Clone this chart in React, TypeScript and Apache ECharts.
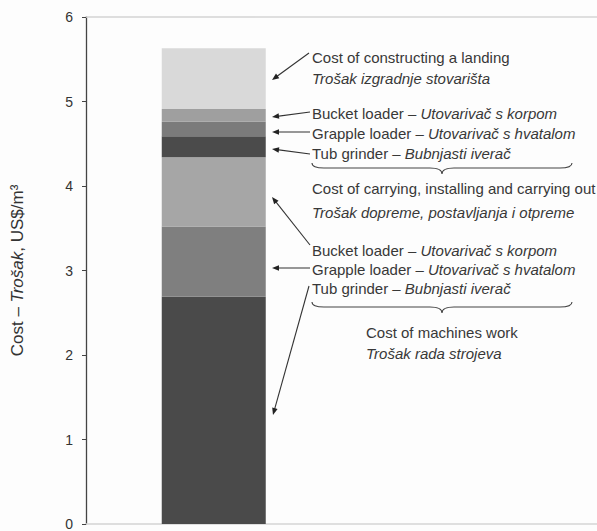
import React, { useEffect, useRef } from "react";
import * as echarts from "echarts";

// ---- data ----
const categories = ["Landing", ""];
const segmentNames = [
  "Tub grinder (machines work)",
  "Grapple loader (machines work)",
  "Bucket loader (machines work)",
  "Tub grinder (carrying)",
  "Grapple loader (carrying)",
  "Bucket loader (carrying)",
  "Cost of constructing a landing",
];
const segmentValues = [2.69, 0.83, 0.82, 0.25, 0.17, 0.15, 0.72];
const segmentColors = ["#4a4a4a", "#7f7f7f", "#a6a6a6", "#4b4b4b", "#7b7b7b", "#9f9f9f", "#d9d9d9"];
const yMin = 0;
const yMax = 6;
const yInterval = 1;

const annotationLines = [
  { text: "Cost of constructing a landing", x: 312, y: 57 },
  { text: "{i|Trošak izgradnje stovarišta}", x: 312, y: 78 },
  { text: "Bucket loader – {i|Utovarivač s korpom}", x: 312, y: 113 },
  { text: "Grapple loader – {i|Utovarivač s hvatalom}", x: 312, y: 133 },
  { text: "Tub grinder – {i|Bubnjasti iverač}", x: 312, y: 153 },
  { text: "Cost of carrying, installing and carrying out", x: 312, y: 188 },
  { text: "{i|Trošak dopreme, postavljanja i otpreme}", x: 312, y: 212 },
  { text: "Bucket loader – {i|Utovarivač s korpom}", x: 312, y: 250 },
  { text: "Grapple loader – {i|Utovarivač s hvatalom}", x: 312, y: 269 },
  { text: "Tub grinder – {i|Bubnjasti iverač}", x: 312, y: 288 },
  { text: "Cost of machines work", x: 366, y: 332 },
  { text: "{i|Trošak rada strojeva}", x: 366, y: 353 },
];

const arrows: [number, number, number, number][] = [
  [309, 53, 272, 80],
  [310, 112, 272, 117],
  [310, 132, 272, 132],
  [310, 154, 272, 149],
  [310, 245, 272, 197],
  [310, 268, 272, 268],
  [309, 286, 273, 415],
];

const braces = [
  { x: 312, y: 163 },
  { x: 312, y: 302 },
];

const FONT = "'Liberation Sans', Arial, sans-serif";
const TEXT_COLOR = "#383838";

echarts.graphic.registerShape(
  "brace",
  echarts.graphic.extendPath(
    "M0,0 Q0,5 12,5 L118,5 Q130,5 130,11 Q130,5 142,5 L248,5 Q260,5 260,0",
    {}
  )
);

function arrowGraphics() {
  const out: any[] = [];
  arrows.forEach(([x1, y1, x2, y2]) => {
    const dx = x2 - x1;
    const dy = y2 - y1;
    const len = Math.sqrt(dx * dx + dy * dy);
    const ux = dx / len;
    const uy = dy / len;
    const nx = -uy;
    const ny = ux;
    const hl = 7;
    const hw = 2.8;
    const bx = x2 - ux * hl;
    const by = y2 - uy * hl;
    out.push({
      type: "line",
      shape: { x1, y1, x2: bx + ux * 2, y2: by + uy * 2 },
      style: { stroke: "#333", lineWidth: 1.1 },
      silent: true,
    });
    out.push({
      type: "polygon",
      shape: {
        points: [
          [x2, y2],
          [bx + nx * hw, by + ny * hw],
          [bx - nx * hw, by - ny * hw],
        ],
      },
      style: { fill: "#222" },
      silent: true,
    });
  });
  return out;
}

export default function App() {
  const ref = useRef<HTMLDivElement>(null);
  useEffect(() => {
    if (!ref.current) return;
    const chart = echarts.init(ref.current, undefined, { renderer: "svg" });
    const option: any = {
      animation: false,
      backgroundColor: "#fdfdfd",
      grid: { left: 86, right: 0, top: 17, bottom: 3, containLabel: false },
      xAxis: [
        {
          type: "category",
          data: categories,
          axisLine: { show: true, lineStyle: { color: "#d4d4d4", width: 1.5 } },
          axisTick: { show: false },
          axisLabel: { show: false },
        },
        {
          type: "category",
          position: "top",
          data: categories,
          axisLine: { show: true, lineStyle: { color: "#d4d4d4", width: 1.5 } },
          axisTick: { show: false },
          axisLabel: { show: false },
        },
      ],
      yAxis: {
        type: "value",
        min: yMin,
        max: yMax,
        interval: yInterval,
        axisLine: { show: true, lineStyle: { color: "#444", width: 1.3 } },
        axisTick: { show: true, length: 4, lineStyle: { color: "#444" } },
        splitLine: { show: false },
        axisLabel: { color: "#333", fontSize: 14, fontFamily: FONT, margin: 13 },
        name: "{n|Cost – }{i|Trošak}{n|, US$/m³}",
        nameLocation: "middle",
        nameGap: 60,
        nameRotate: 90,
        nameTextStyle: {
          rich: {
            n: { fontSize: 17, color: "#333", fontFamily: FONT },
            i: { fontSize: 17, color: "#333", fontFamily: FONT, fontStyle: "italic" },
          },
        },
      },
      series: segmentValues.map((v, i) => ({
        type: "bar",
        name: segmentNames[i],
        stack: "total",
        barWidth: 104,
        data: [v],
        itemStyle: { color: segmentColors[i] },
        silent: true,
      })),
      graphic: [
        ...annotationLines.map((l) => ({
          type: "text",
          x: l.x,
          y: l.y,
          silent: true,
          style: {
            text: l.text,
            fill: TEXT_COLOR,
            font: `15px ${FONT}`,
            fontSize: 15,
            fontFamily: FONT,
            verticalAlign: "middle",
            align: "left",
            rich: {
              i: { fontStyle: "italic", fontSize: 15, fontFamily: FONT, fill: TEXT_COLOR },
            },
          },
        })),
        ...braces.map((b) => ({
          type: "brace",
          x: b.x,
          y: b.y,
          silent: true,
          style: { stroke: "#444", lineWidth: 1.1, fill: "none" },
        })),
        ...arrowGraphics(),
      ],
    };
    chart.setOption(option);
    return () => chart.dispose();
  }, []);
  return (
    <div
      ref={ref}
      style={{ position: "fixed", left: 0, top: 0, width: 597, height: 531 }}
    />
  );
}
